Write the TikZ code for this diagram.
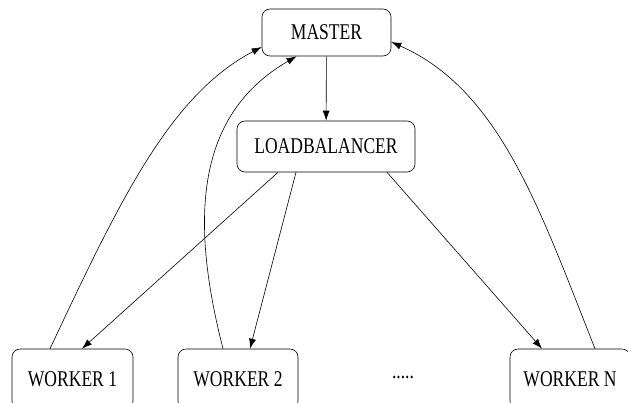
\documentclass[tikz,border=0pt]{standalone}
\usepackage{graphicx}
\usepackage{fontspec}
\setmainfont{Liberation Serif}
\usetikzlibrary{arrows.meta}
\newcommand{\narrow}[1]{\scalebox{0.78}[1]{#1}}

\begin{document}
\begin{tikzpicture}[x=1pt, y=-1pt, line width=0.6pt,
    box/.style={draw, rounded corners=8pt, inner sep=0pt, font=\fontsize{22.5}{24}\selectfont},
    tip/.style={-{Latex[length=10pt,width=7pt]}}]
    \useasboundingbox (0,0) rectangle (628,402);

    \node[box, minimum width=129pt, minimum height=47pt] (master) at (326.5, 32.5) {\narrow{MASTER}};
    \node[box, minimum width=178pt, minimum height=51pt] (lb) at (326, 146.5) {\narrow{LOADBALANCER}};
    \node[box, minimum width=121pt, minimum height=60pt] (w1) at (72.5, 379) {\narrow{WORKER 1}};
    \node[box, minimum width=120pt, minimum height=60pt] (w2) at (238, 379) {\narrow{WORKER 2}};
    \node[box, minimum width=120pt, minimum height=60pt] (wn) at (570, 379) {\narrow{WORKER N}};
    \node[font=\fontsize{22.5}{24}\selectfont] (dots) at (403, 377) {\narrow{.....}};

    \draw
    (master) edge[tip] (lb)
    ([xshift=-48pt]lb.south) edge[tip] ([xshift=9.5pt]w1.north)
    ([xshift=-30pt]lb.south) edge[tip] ([xshift=12pt]w2.north)
    ([xshift=61pt]lb.south) edge[tip] ([xshift=-28pt]wn.north);

    % workers report back to the master
    \draw[tip] ([xshift=-22.5pt]w1.north) .. controls (120, 200) and (170, 95) .. ([yshift=-14.5pt]master.west);
    \draw[tip] ([xshift=-15pt]w2.north) .. controls (190, 220) and (195, 115) .. ([xshift=-30pt]master.south);
    \draw[tip] ([xshift=25pt]wn.north) .. controls (540, 210) and (500, 90) .. ([yshift=-9.5pt]master.east);
\end{tikzpicture}
\end{document}
